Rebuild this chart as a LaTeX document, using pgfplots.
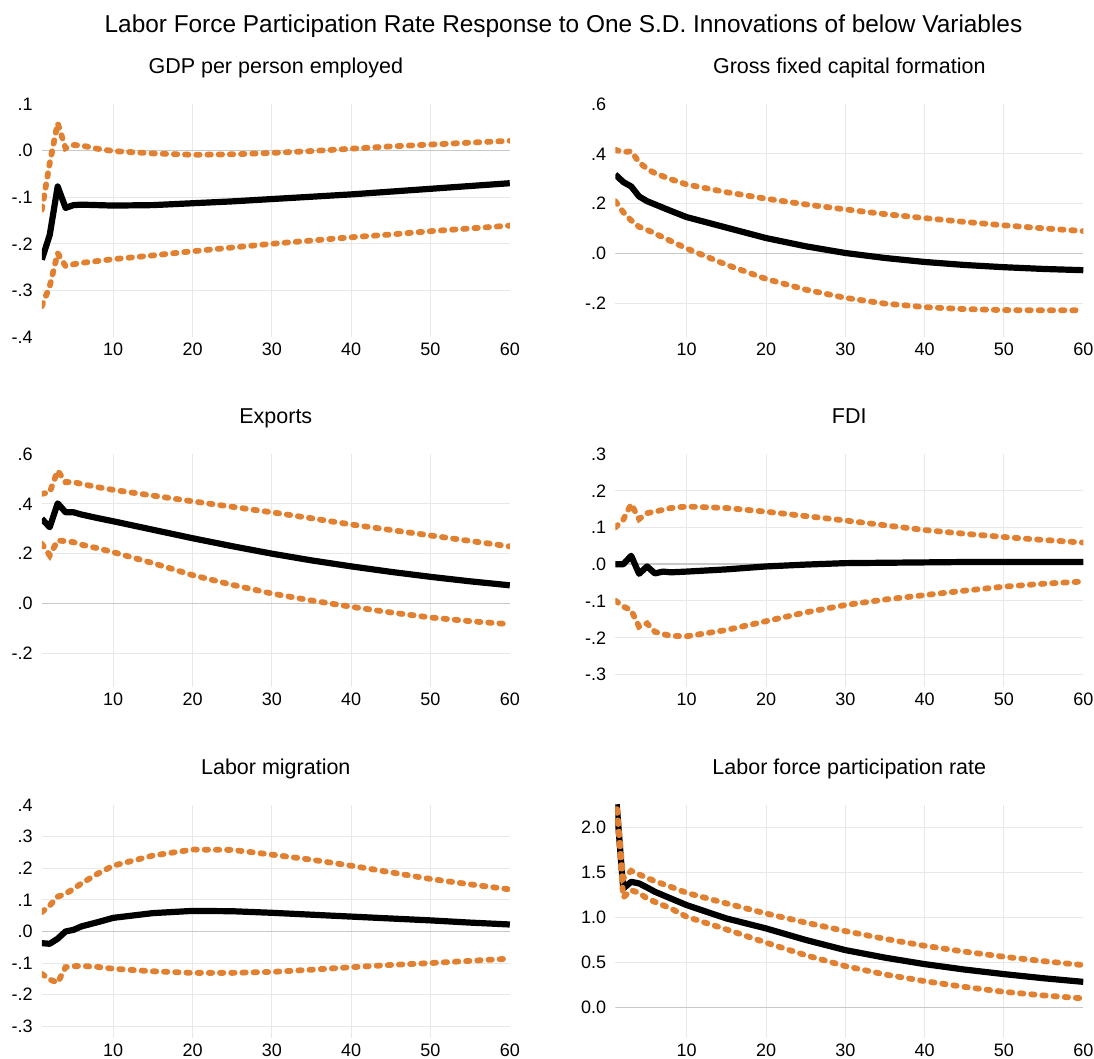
\documentclass[border=0pt]{standalone}
\usepackage{pgfplots}
\pgfplotsset{compat=1.18}
\usepackage{fontspec}
\setmainfont{Liberation Sans}
\definecolor{ciorange}{RGB}{224,128,48}
\definecolor{gridgray}{RGB}{232,232,232}
\definecolor{zerogray}{RGB}{200,200,200}
\pgfplotsset{
  irf/.style={
    scale only axis, width=234pt, height=116.5pt,
    xmin=1, xmax=60,
    axis line style={draw=none},
    major tick length=0pt,
    tick style={draw=none},
    xtick={10,20,30,40,50},
    extra x ticks={60},
    extra x tick style={grid=none},
    extra y tick style={grid=none},
    grid=major,
    major grid style={gridgray, line width=0.5pt},
    /pgf/number format/assume math mode=true,
    tick label style={font=\fontsize{9}{10}\selectfont, text=black},
    xticklabel style={yshift=0.5pt},
    yticklabel style={xshift=-1pt},
    title style={font=\fontsize{10.75}{12}\selectfont, at={(0.5,1)}, anchor=base, yshift=9.1pt},
    clip=true,
  },
  ci/.style={ciorange, line width=2.9pt, line cap=round, dash pattern=on 1.7pt off 3.9pt},
  mid/.style={black, line width=3.1pt, line join=round},
  zl/.style={zerogray, line width=0.75pt, forget plot},
}
\begin{document}
\begin{tikzpicture}
\path[use as bounding box] (0,0) rectangle (547pt,529.5pt);
\node[anchor=base, font=\fontsize{12.2}{14}\selectfont] at (281.75pt,513.2pt) {Labor Force Participation Rate Response to One S.D. Innovations of below Variables};

% Panel 1: GDP per person employed
\begin{axis}[irf, at={(20.9pt,361pt)}, anchor=south west,
  title={GDP per person employed},
  ymin=-0.4, ymax=0.1,
  ytick={-0.3,-0.2,-0.1}, yticklabels={-.3,-.2,-.1},
  extra y ticks={-0.4,0,0.1}, extra y tick labels={-.4,.0,.1}]
\addplot[zl] coordinates {(1,0) (60,0)};
\addplot[mid] coordinates {(1,-0.234) (2,-0.181) (3,-0.077) (4,-0.123) (5,-0.117) (6,-0.116) (8,-0.117) (10,-0.118) (15,-0.117) (20,-0.113) (25,-0.109) (30,-0.104) (35,-0.099) (40,-0.094) (45,-0.088) (50,-0.082) (55,-0.076) (60,-0.070)};
\addplot[ci] coordinates {(1,-0.127) (2,-0.027) (3,0.059) (4,0.005) (5,0.012) (6,0.011) (8,0.004) (10,-0.001) (15,-0.006) (20,-0.009) (25,-0.008) (30,-0.005) (35,-0.001) (40,0.004) (45,0.009) (50,0.013) (55,0.017) (60,0.021)};
\addplot[ci] coordinates {(1,-0.334) (2,-0.291) (3,-0.220) (4,-0.248) (5,-0.244) (6,-0.241) (8,-0.237) (10,-0.233) (15,-0.225) (20,-0.216) (25,-0.208) (30,-0.200) (35,-0.193) (40,-0.186) (45,-0.180) (50,-0.173) (55,-0.167) (60,-0.161)};
\end{axis}

% Panel 2: Gross fixed capital formation
\begin{axis}[irf, at={(307.65pt,361pt)}, anchor=south west,
  title={Gross fixed capital formation},
  ymin=-0.335, ymax=0.6,
  ytick={-0.2,0.2,0.4}, yticklabels={-.2,.2,.4},
  extra y ticks={0,0.6}, extra y tick labels={.0,.6}]
\addplot[zl] coordinates {(1,0) (60,0)};
\addplot[mid] coordinates {(1,0.317) (2,0.287) (3,0.269) (4,0.229) (5,0.210) (6,0.197) (8,0.171) (10,0.146) (15,0.104) (20,0.062) (25,0.029) (30,0.002) (35,-0.018) (40,-0.034) (45,-0.046) (50,-0.055) (55,-0.062) (60,-0.067)};
\addplot[ci] coordinates {(1,0.416) (2,0.407) (3,0.410) (4,0.366) (5,0.340) (6,0.322) (8,0.298) (10,0.277) (15,0.246) (20,0.220) (25,0.197) (30,0.177) (35,0.158) (40,0.142) (45,0.127) (50,0.113) (55,0.101) (60,0.090)};
\addplot[ci] coordinates {(1,0.210) (2,0.166) (3,0.133) (4,0.107) (5,0.095) (6,0.080) (8,0.050) (10,0.020) (15,-0.045) (20,-0.102) (25,-0.145) (30,-0.178) (35,-0.201) (40,-0.215) (45,-0.223) (50,-0.227) (55,-0.228) (60,-0.228)};
\end{axis}

% Panel 3: Exports
\begin{axis}[irf, at={(20.9pt,186pt)}, anchor=south west,
  title={Exports},
  ymin=-0.335, ymax=0.6,
  ytick={-0.2,0.2,0.4}, yticklabels={-.2,.2,.4},
  extra y ticks={0,0.6}, extra y tick labels={.0,.6}]
\addplot[zl] coordinates {(1,0) (60,0)};
\addplot[mid] coordinates {(1,0.340) (2,0.306) (3,0.402) (4,0.366) (5,0.366) (6,0.357) (8,0.343) (10,0.330) (15,0.296) (20,0.262) (25,0.230) (30,0.200) (35,0.173) (40,0.149) (45,0.127) (50,0.107) (55,0.089) (60,0.073)};
\addplot[ci] coordinates {(1,0.440) (2,0.446) (3,0.533) (4,0.487) (5,0.487) (6,0.480) (8,0.467) (10,0.456) (15,0.433) (20,0.410) (25,0.388) (30,0.366) (35,0.342) (40,0.317) (45,0.295) (50,0.273) (55,0.251) (60,0.229)};
\addplot[ci] coordinates {(1,0.240) (2,0.193) (3,0.253) (4,0.250) (5,0.246) (6,0.236) (8,0.222) (10,0.206) (15,0.162) (20,0.114) (25,0.075) (30,0.040) (35,0.012) (40,-0.013) (45,-0.036) (50,-0.056) (55,-0.071) (60,-0.083)};
\end{axis}

% Panel 4: FDI
\begin{axis}[irf, at={(307.65pt,186pt)}, anchor=south west,
  title={FDI},
  ymin=-0.334, ymax=0.3,
  ytick={-0.3,-0.2,-0.1,0.1,0.2}, yticklabels={-.3,-.2,-.1,.1,.2},
  extra y ticks={0,0.3}, extra y tick labels={.0,.3}]
\addplot[zl] coordinates {(1,0) (60,0)};
\addplot[mid] coordinates {(1,0.000) (2,0.000) (3,0.023) (4,-0.026) (5,-0.006) (6,-0.025) (7,-0.020) (8,-0.022) (10,-0.020) (15,-0.014) (20,-0.006) (25,-0.001) (30,0.003) (35,0.004) (40,0.005) (45,0.006) (50,0.006) (55,0.006) (60,0.006)};
\addplot[ci] coordinates {(1,0.100) (2,0.121) (3,0.164) (4,0.123) (5,0.139) (6,0.143) (7,0.148) (8,0.153) (10,0.157) (15,0.153) (20,0.143) (25,0.131) (30,0.119) (35,0.106) (40,0.093) (45,0.083) (50,0.074) (55,0.066) (60,0.059)};
\addplot[ci] coordinates {(1,-0.099) (2,-0.115) (3,-0.125) (4,-0.170) (5,-0.161) (6,-0.184) (7,-0.190) (8,-0.195) (10,-0.196) (15,-0.179) (20,-0.155) (25,-0.131) (30,-0.111) (35,-0.096) (40,-0.084) (45,-0.072) (50,-0.061) (55,-0.053) (60,-0.047)};
\end{axis}

% Panel 5: Labor migration
\begin{axis}[irf, at={(20.9pt,10.5pt)}, anchor=south west,
  title={Labor migration},
  ymin=-0.337, ymax=0.4,
  ytick={-0.3,-0.2,-0.1,0.1,0.2,0.3}, yticklabels={-.3,-.2,-.1,.1,.2,.3},
  extra y ticks={0,0.4}, extra y tick labels={.0,.4}]
\addplot[zl] coordinates {(1,0) (60,0)};
\addplot[mid] coordinates {(1,-0.037) (2,-0.039) (3,-0.023) (4,0.000) (5,0.005) (6,0.016) (8,0.029) (10,0.043) (15,0.058) (20,0.065) (25,0.064) (30,0.059) (35,0.053) (40,0.047) (45,0.041) (50,0.035) (55,0.028) (60,0.022)};
\addplot[ci] coordinates {(1,0.061) (2,0.082) (3,0.110) (4,0.119) (5,0.135) (6,0.152) (8,0.182) (10,0.208) (15,0.240) (20,0.259) (25,0.258) (30,0.243) (35,0.227) (40,0.208) (45,0.187) (50,0.166) (55,0.149) (60,0.133)};
\addplot[ci] coordinates {(1,-0.134) (2,-0.152) (3,-0.162) (4,-0.113) (5,-0.110) (6,-0.109) (8,-0.112) (10,-0.118) (15,-0.126) (20,-0.131) (25,-0.131) (30,-0.128) (35,-0.121) (40,-0.113) (45,-0.106) (50,-0.100) (55,-0.093) (60,-0.086)};
\end{axis}

% Panel 6: Labor force participation rate
\begin{axis}[irf, at={(307.65pt,10.5pt)}, anchor=south west,
  title={Labor force participation rate},
  ymin=-0.34, ymax=2.25,
  ytick={0.5,1.0,1.5,2.0}, yticklabels={0.5,1.0,1.5,2.0},
  extra y ticks={0}, extra y tick labels={0.0}]
\addplot[zl] coordinates {(1,0) (60,0)};
\addplot[mid] coordinates {(1,2.45) (2,1.322) (3,1.396) (4,1.378) (5,1.333) (6,1.285) (8,1.211) (10,1.137) (15,0.989) (20,0.878) (25,0.750) (30,0.637) (35,0.553) (40,0.481) (45,0.421) (50,0.370) (55,0.324) (60,0.284)};
\addplot[ci] coordinates {(1,2.45) (2,1.433) (3,1.518) (4,1.478) (5,1.440) (6,1.403) (8,1.340) (10,1.273) (15,1.156) (20,1.044) (25,0.943) (30,0.848) (35,0.762) (40,0.685) (45,0.620) (50,0.563) (55,0.514) (60,0.470)};
\addplot[ci] coordinates {(1,2.45) (2,1.222) (3,1.303) (4,1.273) (5,1.211) (6,1.173) (8,1.100) (10,1.007) (15,0.867) (20,0.720) (25,0.580) (30,0.459) (35,0.366) (40,0.292) (45,0.228) (50,0.173) (55,0.133) (60,0.100)};
\end{axis}
\end{tikzpicture}
\end{document}
